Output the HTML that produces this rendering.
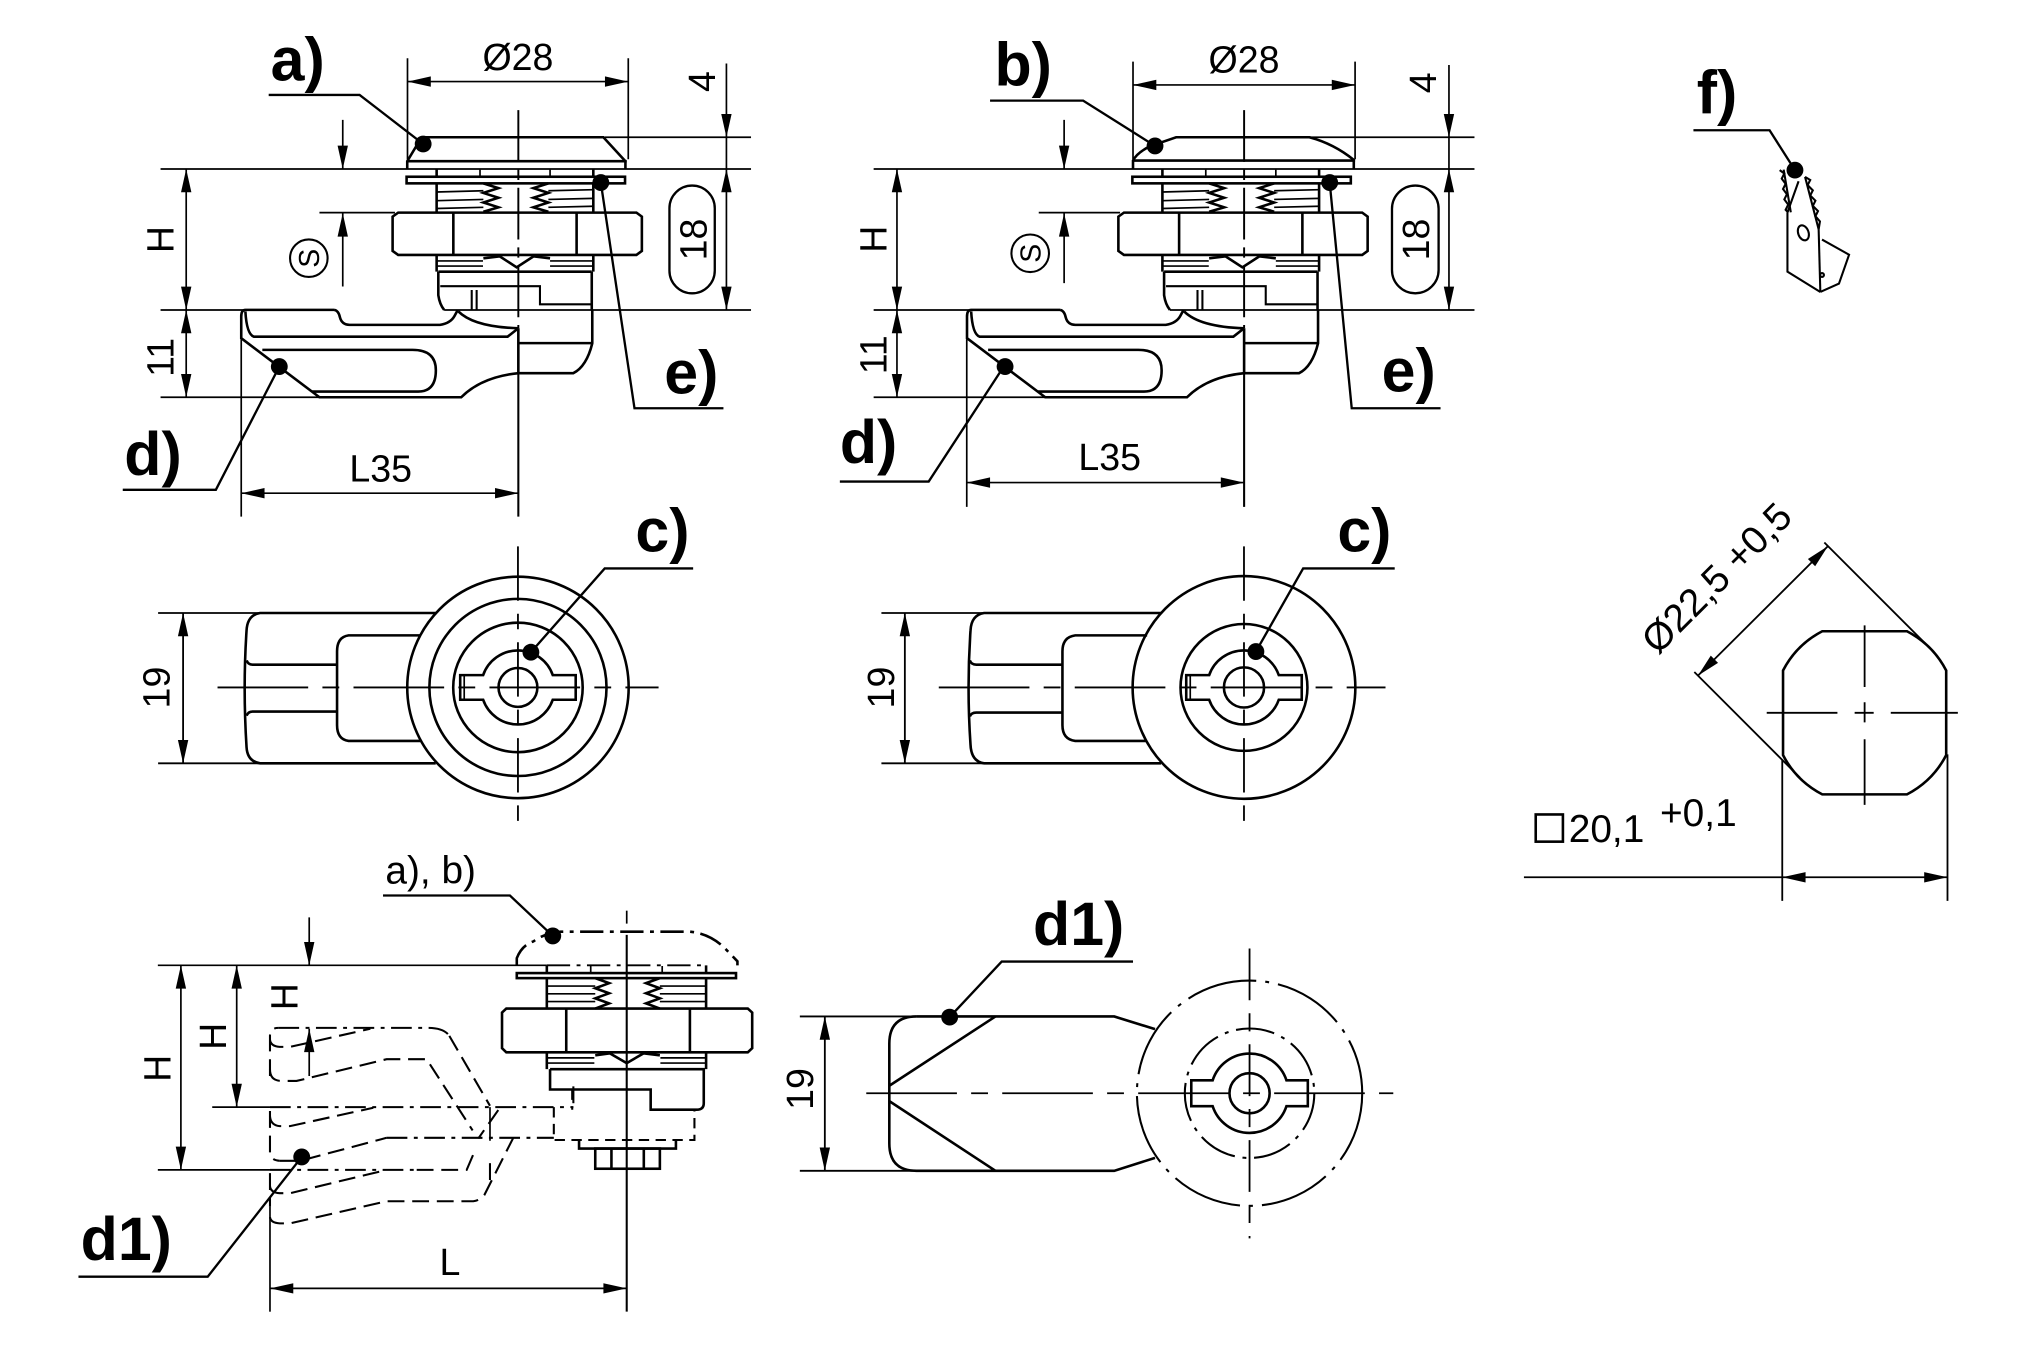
<!DOCTYPE html>
<html><head><meta charset="utf-8">
<style>
html,body{margin:0;padding:0;background:#fff;}
svg{display:block}
text{font-family:"Liberation Sans",Arial,sans-serif;fill:#000}
.lb{font-weight:bold;font-size:47px}
.dm{font-size:29px}
</style></head><body>
<svg width="2020" height="1346" viewBox="0 0 1560 1039.5" preserveAspectRatio="none" xmlns="http://www.w3.org/2000/svg">
<rect width="1560" height="1039.5" fill="#fff"/>
<defs>
<g id="body" fill="none" stroke="#000" stroke-width="2">
 <path d="M337.2,130.8V136.5M458.2,130.8V136.5"/>
 <path d="M370.7,131V136.5M424.8,131V136.5" stroke-width="1.3"/>
 <rect x="314" y="136.5" width="168.7" height="5.1"/>
 <path d="M337.2,141.6V163.5M458.2,141.6V163.5"/>
 <path stroke-width="1.3" d="M337.2,148.3L373.3,147.3M337.2,155L373.3,154M337.2,161L373.3,160.1M423.5,147.3L458.2,146.5M423.5,154L458.2,153.2M423.5,160.1L458.2,159.3"/>
 <polyline points="373.3,141.6 384.9,145.3 373.3,149 384.9,152.7 373.3,156.4 384.9,160.1 373.3,163.5"/>
 <polyline points="423.5,141.6 411.9,145.3 423.5,149 411.9,152.7 423.5,156.4 411.9,160.1 423.5,163.5"/>
 <path d="M307.5,164.2L491.5,164.2L495.7,167.3L495.7,193.8L491.5,196.9L307.5,196.9L303.2,193.8L303.2,167.3Z"/>
 <path d="M350.1,164.2V196.9M445.3,164.2V196.9"/>
 <path d="M337.2,196.9V209.8M458.2,196.9V209.8"/>
 <path stroke-width="1.3" d="M337.2,201.5H373M337.2,205.5H373M424.8,201.5H458.2M424.8,205.5H458.2"/>
 <path d="M373.3,199.5L386,198L399,206.5L412,198L424.8,199.5"/>
 <path d="M338.5,209.8H457M338.5,209.8V228Q339.5,235 343,239.4M457,209.8V239.4"/>
 <path d="M340,221H417V235H457M364.3,224V239.4M368.1,224V239.4" stroke-width="1.6"/>
 <path d="M258.2,239.3H189.5Q186.3,239.3 186.3,244.5V261.2L246.7,306.8H356.2Q372,291 400.3,288.2H442.7Q453,283 457.4,265.1V239.4"/>
 <path d="M258.2,239.3Q261.5,240 262.5,245Q264,250.9 270,250.9H339.8Q348,249.5 351,244L353.5,239.4"/>
 <path d="M189.5,240.5Q190.5,258 196,260H392L400.3,253.5"/>
 <path d="M354,240.5Q366,252.5 400.3,253.5"/>
 <path d="M400.3,265H457.4M400.3,253.5V288.2"/>
 <path d="M202.6,270.2H318.6Q336.6,270.2 336.6,286Q336.6,302.4 323,302.4H241"/>
 <path d="M400.3,85V253.5" stroke-width="1.5" stroke-dasharray="40,6,8,6"/>
 <circle cx="215.7" cy="283.1" r="6.5" fill="#000" stroke="none"/>
</g>
</defs>

<!-- ============ VIEW A ============ -->
<use href="#body"/>
<g fill="none" stroke="#000" stroke-width="2">
 <path d="M314.5,130.5V124.5L325.6,106H466L483,124.5V130.5"/>
 <path d="M314.5,124.5H484"/>
</g>
<g fill="none" stroke="#000" stroke-width="1.3">
 <path d="M314.7,45V123M485.2,45V123M314.7,63H485.2"/>
 <path d="M467,106H580M124,130.5H580M124,239.4H258.2M343,239.4H580M124,306.8H356.2"/>
 <path d="M561,49V239.4"/>
 <path d="M143.8,130.5V306.8"/>
 <path d="M264.7,92.6V130.5M264.7,164.7V221.3M246.7,164.2H305"/>
 <path d="M186.3,262V399M186.3,380.9H400.3"/>
 <path d="M400.3,288V399" stroke-width="1.6"/>
 <rect x="517" y="143.3" width="35" height="83.2" rx="17.5" stroke-width="1.8"/>
 <circle cx="238.5" cy="199.4" r="14.5" stroke-width="1.6"/>
</g>
<g fill="none" stroke="#000" stroke-width="1.8">
 <path d="M207.5,73.3H277.7L326.8,111.2"/>
 <path d="M464,141L490,315.3H558.7"/>
 <path d="M94.8,378.3H166.7L215.7,283.1"/>
</g>
<g fill="#000">
 <circle cx="326.8" cy="111.2" r="6.5"/>
 <circle cx="464" cy="141" r="6.5"/>
 <polygon points="314.7,63 332.7,59 332.7,67"/>
 <polygon points="485.2,63 467.2,59 467.2,67"/>
 <polygon points="561,106 557,88 565,88"/>
 <polygon points="561,130.5 557,148.5 565,148.5"/>
 <polygon points="561,239.4 557,221.4 565,221.4"/>
 <polygon points="143.8,130.5 139.8,148.5 147.8,148.5"/>
 <polygon points="143.8,239.4 139.8,221.4 147.8,221.4"/>
 <polygon points="143.8,239.4 139.8,257.4 147.8,257.4"/>
 <polygon points="143.8,306.8 139.8,288.8 147.8,288.8"/>
 <polygon points="264.7,130.5 260.7,112.5 268.7,112.5"/>
 <polygon points="264.7,164.7 260.7,182.7 268.7,182.7"/>
 <polygon points="186.3,380.9 204.3,376.9 204.3,384.9"/>
 <polygon points="400.3,380.9 382.3,376.9 382.3,384.9"/>
</g>
<text class="lb" x="209" y="62">a)</text>
<text class="lb" x="513" y="304">e)</text>
<text class="lb" x="96" y="367">d)</text>
<text class="dm" x="400" y="54" text-anchor="middle">Ø28</text>
<text class="dm" x="294" y="372" text-anchor="middle">L35</text>
<text class="dm" transform="translate(552,63) rotate(-90)" text-anchor="middle">4</text>
<text class="dm" transform="translate(545.6,185) rotate(-90)" text-anchor="middle">18</text>
<text class="dm" transform="translate(134,185) rotate(-90)" text-anchor="middle">H</text>
<text class="dm" transform="translate(134,276) rotate(-90)" text-anchor="middle">11</text>
<text style="font-size:22px" transform="translate(246.5,199.4) rotate(-90)" text-anchor="middle">S</text>

<!-- ============ VIEW B ============ -->
<use href="#body" transform="translate(560.5,0)"/>
<g fill="none" stroke="#000" stroke-width="2">
 <path d="M875,130.5V124Q878,118 888,113L908.3,106H1011.2Q1030,111 1045.5,123.5V130.5"/>
 <path d="M875,124H1046.5"/>
</g>
<g fill="none" stroke="#000" stroke-width="1.3">
 <path d="M875,47.6V123M1046.5,47.6V123M875,65.6H1046.5"/>
 <path d="M1011.2,106H1138.7M674.7,130.5H1138.7M674.7,239.4H818.7M903.5,239.4H1138.7M674.7,306.8H916.7"/>
 <path d="M1119,50.2V239.4"/>
 <path d="M692.7,130.5V306.8"/>
 <path d="M821.8,92.6V130.5M821.8,164.7V218.7M802.2,164.2H865"/>
 <path d="M746.6,262V391.5M746.6,372.7H960.8"/>
 <path d="M960.8,288V391.5" stroke-width="1.6"/>
 <rect x="1075" y="143.3" width="36" height="83.2" rx="18" stroke-width="1.8"/>
 <circle cx="795.6" cy="195.6" r="14.5" stroke-width="1.6"/>
</g>
<g fill="none" stroke="#000" stroke-width="1.8">
 <path d="M764.6,77.7H836.5L892,112.7"/>
 <path d="M1026.9,141L1043.9,315.3H1112.5"/>
 <path d="M648.6,371.9H717.2L776,281.8"/>
</g>
<g fill="#000">
 <circle cx="892" cy="112.7" r="6.5"/>
 <circle cx="1026.9" cy="141" r="6.5"/>
 <polygon points="875,65.6 893,61.6 893,69.6"/>
 <polygon points="1046.5,65.6 1028.5,61.6 1028.5,69.6"/>
 <polygon points="1119,106 1115,88 1123,88"/>
 <polygon points="1119,130.5 1115,148.5 1123,148.5"/>
 <polygon points="1119,239.4 1115,221.4 1123,221.4"/>
 <polygon points="692.7,130.5 688.7,148.5 696.7,148.5"/>
 <polygon points="692.7,239.4 688.7,221.4 696.7,221.4"/>
 <polygon points="692.7,239.4 688.7,257.4 696.7,257.4"/>
 <polygon points="692.7,306.8 688.7,288.8 696.7,288.8"/>
 <polygon points="821.8,130.5 817.8,112.5 825.8,112.5"/>
 <polygon points="821.8,164.7 817.8,182.7 825.8,182.7"/>
 <polygon points="746.6,372.7 764.6,368.7 764.6,376.7"/>
 <polygon points="960.8,372.7 942.8,368.7 942.8,376.7"/>
</g>
<text class="lb" x="768" y="66">b)</text>
<text class="lb" x="1067" y="302.5">e)</text>
<text class="lb" x="648.6" y="357.7">d)</text>
<text class="dm" x="960.7" y="56" text-anchor="middle">Ø28</text>
<text class="dm" x="857" y="363" text-anchor="middle">L35</text>
<text class="dm" transform="translate(1109,64) rotate(-90)" text-anchor="middle">4</text>
<text class="dm" transform="translate(1103.5,185) rotate(-90)" text-anchor="middle">18</text>
<text class="dm" transform="translate(684.5,184.7) rotate(-90)" text-anchor="middle">H</text>
<text class="dm" transform="translate(684.5,274) rotate(-90)" text-anchor="middle">11</text>
<text style="font-size:22px" transform="translate(803.6,195.6) rotate(-90)" text-anchor="middle">S</text>

<!-- ============ VIEW C1 ============ -->
<g fill="none" stroke="#000" stroke-width="2">
 <circle cx="400" cy="530.9" r="85.5"/>
 <circle cx="400" cy="530.9" r="68.4"/>
 <circle cx="400" cy="530.9" r="50"/>
 <path d="M373.1,521.4A28.5,28.5 0 0 1 426.9,521.4H444.6V540.4H426.9A28.5,28.5 0 0 1 373.1,540.4H355.4V521.4Z"/>
 <path d="M358.5,521.4V540.4" stroke-width="1.3"/>
 <circle cx="400" cy="530.9" r="15"/>
 <path d="M336.5,473.4H200.8Q191,475 190.4,487Q187.5,531 190.4,577Q191,588 200.8,589.5H336.5"/>
 <path d="M190.5,510Q191.5,513.3 195,513.3H260.3M190.5,552.8Q191.5,549.5 195,549.5H260.3"/>
 <path d="M324.5,490.7H269.2Q260.3,492 260.3,503V560Q260.3,571 269.2,572.2H324.5"/>
</g>
<g fill="none" stroke="#000" stroke-width="1.4">
 <path d="M168,530.9H508.6" stroke-dasharray="70,11,13,11"/>
 <path d="M400,422V640.8" stroke-dasharray="42,10,12,10"/>
 <path d="M122.1,473.4H200.8M122.1,589.5H200.8M141.4,473.4V589.5"/>
 <path d="M410,503.7L467,439H535.3" stroke-width="1.8"/>
</g>
<g fill="#000">
 <circle cx="410" cy="503.7" r="6.5"/>
 <polygon points="141.4,473.4 137.4,491.4 145.4,491.4"/>
 <polygon points="141.4,589.5 137.4,571.5 145.4,571.5"/>
</g>
<text class="lb" x="490.7" y="426">c)</text>
<text class="dm" transform="translate(131,531) rotate(-90)" text-anchor="middle">19</text>

<!-- ============ VIEW C2 ============ -->
<g fill="none" stroke="#000" stroke-width="2">
 <circle cx="960.7" cy="530.9" r="86"/>
 <circle cx="960.7" cy="530.9" r="49"/>
 <path d="M933.8,521.4A28.5,28.5 0 0 1 987.6,521.4H1005.3V540.4H987.6A28.5,28.5 0 0 1 933.8,540.4H916.1V521.4Z"/>
 <path d="M919.2,521.4V540.4" stroke-width="1.3"/>
 <circle cx="960.7" cy="530.9" r="15.5"/>
 <path d="M896.7,473.4H760Q750,475 749.5,487Q746.5,531 749.5,575Q750,588 760,589.5H896.7"/>
 <path d="M749,510Q750,513.3 754,513.3H820.5M749,553.3Q750,550.3 754,550.3H820.5"/>
 <path d="M885.9,490.7H830.4Q820.5,492 820.5,503V560Q820.5,571 830.4,572.2H885.9"/>
</g>
<g fill="none" stroke="#000" stroke-width="1.4">
 <path d="M725,530.9H1070" stroke-dasharray="70,11,13,11"/>
 <path d="M960.7,422V640.8" stroke-dasharray="42,10,12,10"/>
 <path d="M680.7,473.4H760M680.7,589.5H760M698.8,473.4V589.5"/>
 <path d="M969.9,503.2L1006.4,439H1077.1" stroke-width="1.8"/>
</g>
<g fill="#000">
 <circle cx="969.9" cy="503.2" r="6.5"/>
 <polygon points="698.8,473.4 694.8,491.4 702.8,491.4"/>
 <polygon points="698.8,589.5 694.8,571.5 702.8,571.5"/>
</g>
<text class="lb" x="1032.8" y="426">c)</text>
<text class="dm" transform="translate(690.4,531) rotate(-90)" text-anchor="middle">19</text>

<!-- ============ VIEW D (bottom-left) ============ -->
<g fill="none" stroke="#000" stroke-width="2">
 <path d="M399.1,745.5V740Q403,730 412,727Q422,720 433,719.5H532.8Q548,721 559.5,732L569.5,742.4V745.5" stroke-dasharray="18,5,3,5"/>
 <path d="M422.3,745.5H545.3" stroke-dasharray="18,5,3,5" stroke-width="1.5"/>
 <path d="M422.3,745.5V751.5M545.3,745.5V751.5"/>
 <path d="M456.2,746V751.5M511.4,746V751.5" stroke-width="1.3"/>
 <rect x="399.1" y="751.5" width="169.3" height="3.9"/>
 <path d="M422.3,755.4V778.9M545.3,755.4V778.9"/>
 <path stroke-width="1.3" d="M422.3,761.5H459.7M422.3,767.5H459.7M422.3,773.5H459.7M509.6,761.5H545.3M509.6,767.5H545.3M509.6,773.5H545.3"/>
 <polyline points="459.7,755.4 470.4,759.3 459.7,763.2 470.4,767.1 459.7,771 470.4,774.9 459.7,778.9"/>
 <polyline points="509.6,755.4 498.9,759.3 509.6,763.2 498.9,767.1 509.6,771 498.9,774.9 509.6,778.9"/>
 <path d="M391,778.9H577.5L580.9,782V809.5L577.5,812.7H391L387.7,809.5V782Z"/>
 <path d="M437.3,778.9V812.7M532.8,778.9V812.7"/>
 <path d="M422.3,812.7V825.7M545.3,812.7V825.7"/>
 <path stroke-width="1.3" d="M422.3,817H459M422.3,821H459M510,817H545.3M510,821H545.3"/>
 <path d="M459.7,815L471,813.5L484,821L497,813.5L509.6,815"/>
 <path d="M424.8,825.7H543.5V852Q543.5,857 538,857H502.5V841.4H424.8V825.7"/>
 <path d="M427.7,855V880.4H536.3V857M441.9,841.4V857" stroke-dasharray="8,5" stroke-width="1.6"/>
 <path d="M447.2,880.4V887H522V880.4"/>
 <rect x="459.7" y="887" width="49.9" height="15.6"/>
 <path d="M472.2,887V902.6M497.2,887V902.6"/>
</g>
<g fill="none" stroke="#000" stroke-width="1.6" stroke-dasharray="13,6">
 <path d="M208.5,831V800Q208.5,793.8 215,793.8"/>
 <path d="M347,800L378.4,854"/>
 <path d="M208.5,803Q209,808 216,808.5H224L286,794.5"/>
 <path d="M208.5,826Q208.5,834.5 217,834.8H229L298.6,818H329.5L365,873"/>
 <path d="M208.5,858V890Q208.5,896 216,896.5"/>
 <path d="M208.5,862Q209,869 216,869.7H224L288.3,855.5"/>
 <path d="M216,896.5H231.7L298.6,878.7"/>
 <path d="M384.8,857.3L369.4,879.2"/>
 <path d="M208.5,906V932"/>
 <path d="M208.5,916Q209,921 216,921.5H224L298.6,903.5"/>
 <path d="M208.5,940Q209,944.4 216,944.8H224L298.6,927.7H365.5Q371,927 374,923L396.4,878.7"/>
 <path d="M321.8,903.5H360.4L365.5,891.6"/>
 <path d="M378.4,898.3V916.4"/>
 <path d="M442.8,839V855"/>
</g>
<g fill="none" stroke="#000" stroke-width="1.6" stroke-dasharray="16,5,3,5">
 <path d="M215,793.8H331Q343,794 347,800"/>
 <path d="M208.5,855H442.8"/>
 <path d="M298.6,878.7H427.7"/>
 <path d="M208.5,903.5H321.8"/>
</g>
<g fill="none" stroke="#000" stroke-width="1.3">
 <path d="M121.9,745.5H422.3M163.9,855H208.5M121.9,903.5H208.5"/>
 <path d="M378.4,855V881"/>
 <path d="M208.5,932V1013"/>
 <path d="M139.7,745.5V903.5M182.8,745.5V855"/>
 <path d="M238.8,708.5V745.5M238.8,794.5V831"/>
 <path d="M208.5,995H484"/>
 <path d="M484,703.3V716" stroke-dasharray="10,4"/>
 <path d="M484,722V1013" stroke-width="1.6"/>
 <path d="M295.8,691.6H393.8L426.9,722.8" stroke-width="1.8"/>
 <path d="M60.6,986H160.4L233,893.5" stroke-width="1.8"/>
</g>
<g fill="#000">
 <circle cx="426.9" cy="722.8" r="6.5"/>
 <circle cx="233" cy="893.5" r="6.5"/>
 <polygon points="139.7,745.5 135.7,763.5 143.7,763.5"/>
 <polygon points="139.7,903.5 135.7,885.5 143.7,885.5"/>
 <polygon points="182.8,745.5 178.8,763.5 186.8,763.5"/>
 <polygon points="182.8,855 178.8,837 186.8,837"/>
 <polygon points="238.8,745.5 234.8,727.5 242.8,727.5"/>
 <polygon points="238.8,794.5 234.8,812.5 242.8,812.5"/>
 <polygon points="208.5,995 226.5,991 226.5,999"/>
 <polygon points="484,995 466,991 466,999"/>
</g>
<text x="297.6" y="682.5" style="font-size:30px">a), b)</text>
<text class="lb" x="62.3" y="973">d1)</text>
<text class="dm" x="347.5" y="984.6" text-anchor="middle">L</text>
<text class="dm" transform="translate(131.8,825) rotate(-90)" text-anchor="middle">H</text>
<text class="dm" transform="translate(174.6,800.3) rotate(-90)" text-anchor="middle">H</text>
<text class="dm" transform="translate(229.8,769.7) rotate(-90)" text-anchor="middle">H</text>

<!-- ============ VIEW E (bottom-middle) ============ -->
<g fill="none" stroke="#000" stroke-width="2">
 <path d="M707.7,785H860.5L892,794.8"/>
 <path d="M707.7,785Q686.8,785 686.8,806V883Q686.8,904.2 707.7,904.2H860.5L892,894.2"/>
 <path d="M768.8,785L686.8,838.5M686.8,850.4L768.8,904.2"/>
 <circle cx="965" cy="844.3" r="87" stroke-width="1.6" stroke-dasharray="55,7,3,7"/>
 <circle cx="965" cy="844.3" r="50" stroke-width="1.6" stroke-dasharray="30,6,3,6"/>
 <path d="M936.5,834.3A30,30 0 0 1 993.5,834.3H1010V854.3H993.5A30,30 0 0 1 936.5,854.3H920V834.3Z"/>
 <circle cx="965" cy="844.3" r="15.5"/>
</g>
<g fill="none" stroke="#000" stroke-width="1.4">
 <path d="M669,844.3H1076" stroke-dasharray="70,11,13,11"/>
 <path d="M965,732.5V956.4" stroke-dasharray="40,10,14,10"/>
 <path d="M617.7,785H707.7M617.7,904.2H707.7M637,785V904.2"/>
 <path d="M875,742.6H773.6L733.4,785.5" stroke-width="1.8"/>
</g>
<g fill="#000">
 <circle cx="733.4" cy="785.5" r="6.5"/>
 <polygon points="637,785 633,803 641,803"/>
 <polygon points="637,904.2 633,886.2 641,886.2"/>
</g>
<text class="lb" x="797.8" y="730">d1)</text>
<text class="dm" transform="translate(628,841) rotate(-90)" text-anchor="middle">19</text>

<!-- ============ VIEW F (right) ============ -->
<g fill="none" stroke="#000" stroke-width="2">
 <path d="M1407.3,487.5H1472.7A71,71 0 0 1 1503,517.8V583.2A71,71 0 0 1 1472.7,613.5H1407.3A71,71 0 0 1 1377,583.2V517.8A71,71 0 0 1 1407.3,487.5Z"/>
</g>
<g fill="none" stroke="#000" stroke-width="1.4">
 <path d="M1364.4,550.5H1419M1432.3,550.5H1447M1460.2,550.5H1512"/>
 <path d="M1440,483V530.6M1440,542.3V557.9M1440,570.9V621.6"/>
 <path d="M1408.9,419L1490.2,500.3M1308.5,519L1390,600.5"/>
 <path d="M1311.3,521.8L1411.7,421.8"/>
 <path d="M1176.9,677.5H1504M1376.4,586.5V695.7M1504,582.6V695.7"/>
 <rect x="1186" y="629" width="21" height="21" stroke-width="2"/>
</g>
<g fill="#000">
 <polygon points="1311.3,521.8 1326.8,511.9 1321.2,506.3"/>
 <polygon points="1411.7,421.8 1401.8,437.3 1396.2,431.7"/>
 <polygon points="1376.4,677.5 1394.4,673.5 1394.4,681.5"/>
 <polygon points="1504,677.5 1486,673.5 1486,681.5"/>
</g>
<text style="font-size:30px" transform="translate(1280.2,506.3) rotate(-45)">Ø22,5 +0,5</text>
<text style="font-size:30px" x="1211.5" y="650.2">20,1</text>
<text style="font-size:30px" x="1282" y="638">+0,1</text>

<!-- ============ f) ============ -->
<text class="lb" x="1310.4" y="87.8">f)</text>
<g fill="none" stroke="#000" stroke-width="1.6">
 <path d="M1307.8,100.6H1366.6L1386.2,131.4" stroke-width="1.8"/>
 <polyline points="1374.4,131.4 1378,134 1376,138 1379,142 1377,146 1380,150 1378,154 1381,158 1379,162 1381,164.1"/>
 <path d="M1377.5,131L1383,164"/>
 <path d="M1380.4,164.1V209.8L1405.8,225.5"/>
 <path d="M1380.4,164.1L1389,140M1394,136.6L1404.5,177.1"/>
 <polyline points="1394,136.6 1398,139 1396,143 1400,147 1398,151 1402,155 1400,159 1404,163 1402,167 1405.5,171 1404.5,177.1"/>
 <path d="M1404.5,177.1L1405.8,225.5"/>
 <path d="M1407.1,185L1428,196.7L1420.2,219L1405.8,225.5"/>
 <ellipse cx="1392.7" cy="179.8" rx="4" ry="6" transform="rotate(-20 1392.7 179.8)"/>
 <circle cx="1407.1" cy="212.4" r="1.5"/>
</g>
<circle cx="1386.2" cy="131.4" r="6.5" fill="#000"/>
</svg>
</body></html>
